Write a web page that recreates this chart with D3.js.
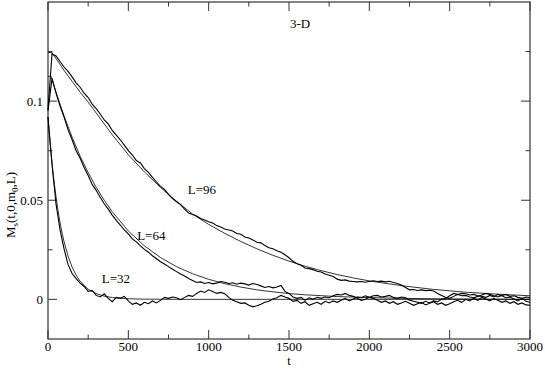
<!DOCTYPE html>
<html>
<head>
<meta charset="utf-8">
<script src="https://cdn.jsdelivr.net/npm/d3@7"></script>
<style>
  body { margin: 0; background: #fff; }
  svg { display: block; font-family: "Liberation Serif", "DejaVu Serif", serif; }
  .data { fill: none; stroke: #000; stroke-width: 1.1; }
  .fit { fill: none; stroke: #000; stroke-width: 0.8; }
</style>
</head>
<body>
<svg id="chart"></svg>
<script>
const W = 545, H = 368;
const M = { left: 48, right: 15, top: 2, bottom: 29 };

const X_TICKS = [0, 500, 1000, 1500, 2000, 2500, 3000];
const Y_TICKS = [0, 0.05, 0.1];

// simulation time, step 25
const T_DATA = d3.range(0, 3001, 25);

const M96 = [
  0.0960, 0.1238, 0.1228, 0.1200, 0.1172, 0.1150, 0.1122, 0.1092, 0.1070, 0.1040,
  0.1018, 0.0985, 0.0962, 0.0935, 0.0905, 0.0885, 0.0852, 0.0828, 0.0805, 0.0778,
  0.0750, 0.0728, 0.0700, 0.0688, 0.0660, 0.0640, 0.0615, 0.0592, 0.0570, 0.0555,
  0.0530, 0.0508, 0.0492, 0.0478, 0.0455, 0.0435, 0.0428, 0.0420, 0.0408, 0.0400,
  0.0392, 0.0385, 0.0372, 0.0365, 0.0355, 0.0350, 0.0345, 0.0332, 0.0328, 0.0315,
  0.0310, 0.0300, 0.0288, 0.0285, 0.0272, 0.0260, 0.0255, 0.0245, 0.0238, 0.0225,
  0.0210, 0.0192, 0.0180, 0.0172, 0.0158, 0.0155, 0.0150, 0.0142, 0.0138, 0.0128,
  0.0122, 0.0115, 0.0102, 0.0096, 0.0098, 0.0092, 0.0090, 0.0088, 0.0090, 0.0086,
  0.0090, 0.0094, 0.0090, 0.0092, 0.0088, 0.0091, 0.0085, 0.0080, 0.0072, 0.0060,
  0.0048, 0.0050, 0.0045, 0.0048, 0.0044, 0.0046, 0.0042, 0.0030, 0.0020, 0.0010,
  0.0005, 0.0015, 0.0025, 0.0030, 0.0028, 0.0022, 0.0025, 0.0018, 0.0015, 0.0010,
  0.0020, 0.0012, 0.0025, 0.0018, 0.0008, 0.0012, 0.0002, -0.0008, 0.0005, -0.0010,
  -0.0015
];

const M64 = [
  0.0950, 0.1115, 0.1040, 0.0975, 0.0920, 0.0855, 0.0805, 0.0750, 0.0712, 0.0665,
  0.0625, 0.0580, 0.0550, 0.0515, 0.0482, 0.0455, 0.0425, 0.0398, 0.0375, 0.0350,
  0.0330, 0.0305, 0.0290, 0.0270, 0.0252, 0.0238, 0.0220, 0.0205, 0.0190, 0.0178,
  0.0165, 0.0152, 0.0140, 0.0128, 0.0118, 0.0105, 0.0095, 0.0085, 0.0088, 0.0080,
  0.0085, 0.0078, 0.0082, 0.0090, 0.0086, 0.0080, 0.0084, 0.0076, 0.0082, 0.0078,
  0.0072, 0.0080, 0.0075, 0.0068, 0.0060, 0.0065, 0.0058, 0.0062, 0.0070, 0.0040,
  0.0030, 0.0012, 0.0005, 0.0010, -0.0005, 0.0008, 0.0000, 0.0010, 0.0005, 0.0012,
  0.0008, 0.0018, 0.0025, 0.0022, 0.0030, 0.0020, 0.0015, 0.0005, -0.0005, 0.0000,
  0.0010, 0.0018, 0.0020, 0.0012, 0.0015, 0.0020, 0.0010, 0.0005, 0.0012, 0.0008,
  -0.0004, -0.0010, -0.0015, -0.0020, -0.0010, -0.0018, -0.0008, -0.0012, 0.0000, 0.0005,
  0.0018, 0.0030, 0.0025, 0.0018, 0.0020, 0.0012, 0.0008, 0.0015, 0.0022, 0.0030,
  0.0025, 0.0018, 0.0012, 0.0020, 0.0025, 0.0015, 0.0018, 0.0010, 0.0005, 0.0012,
  0.0008
];

const M32 = [
  0.0920, 0.0680, 0.0480, 0.0350, 0.0255, 0.0175, 0.0130, 0.0105, 0.0082, 0.0065,
  0.0040, 0.0045, 0.0020, 0.0012, 0.0028, 0.0005, -0.0012, 0.0010, 0.0005, 0.0015,
  -0.0008, -0.0025, -0.0018, -0.0030, -0.0015, -0.0022, -0.0008, -0.0018, -0.0005, 0.0010,
  0.0005, 0.0012, 0.0008, -0.0002, 0.0010, 0.0020, 0.0015, 0.0030, 0.0042, 0.0035,
  0.0048, 0.0040, 0.0030, 0.0035, 0.0028, 0.0010, -0.0005, -0.0012, -0.0020, -0.0018,
  -0.0030, -0.0038, -0.0032, -0.0025, -0.0015, -0.0010, 0.0002, 0.0008, 0.0020, 0.0012,
  0.0005, -0.0010, -0.0005, -0.0020, -0.0012, -0.0030, -0.0022, -0.0015, -0.0025, -0.0010,
  -0.0018, -0.0008, -0.0015, -0.0005, 0.0005, -0.0008, 0.0002, 0.0012, 0.0008, 0.0018,
  0.0010, 0.0005, -0.0005, -0.0015, -0.0008, -0.0020, -0.0012, -0.0025, -0.0018, -0.0010,
  -0.0020, -0.0030, -0.0022, -0.0015, -0.0028, -0.0020, -0.0012, -0.0025, -0.0018, -0.0030,
  -0.0022, -0.0012, -0.0005, -0.0015, 0.0000, -0.0008, 0.0005, -0.0005, 0.0010, 0.0002,
  -0.0008, 0.0004, -0.0005, -0.0015, -0.0008, -0.0020, -0.0012, -0.0025, -0.0018, -0.0028,
  -0.0030
];

// fitted curves
const FIT96_T = [0, 25, 50, 100, 150, 200, 250, 300, 400, 500, 600, 700, 800, 900, 1000,
  1100, 1200, 1300, 1400, 1500, 1600, 1700, 1800, 1900, 2000, 2200, 2400, 2600, 2800, 3000];
const FIT96 = [0.1245, 0.1245, 0.1215, 0.1155, 0.1100, 0.1045, 0.0995, 0.0940, 0.0830, 0.0730,
  0.0643, 0.0565, 0.0495, 0.0430, 0.0378, 0.0333, 0.0292, 0.0255, 0.0222, 0.0193,
  0.0167, 0.0145, 0.0125, 0.0108, 0.0093, 0.0069, 0.0050, 0.0036, 0.0026, 0.0018];

const FIT64_T = [0, 20, 50, 100, 150, 200, 250, 300, 350, 400, 500, 600, 700, 800, 900, 1000,
  1100, 1200, 1300, 1400, 1500, 1600, 1800, 2000, 2200, 2500, 3000];
const FIT64 = [0.1125, 0.1125, 0.1045, 0.0925, 0.0818, 0.0722, 0.0640, 0.0565, 0.0500, 0.0442,
  0.0345, 0.0270, 0.0211, 0.0165, 0.0129, 0.0101, 0.0079, 0.0062, 0.0048, 0.0038,
  0.0029, 0.0023, 0.0014, 0.0009, 0.0005, 0.0002, 0.0000];

const FIT32_T = [0, 10, 20, 30, 40, 50, 60, 70, 80, 90, 100, 125, 150, 175, 200, 250, 300,
  350, 400, 500, 600, 800, 3000];
const FIT32 = [0.0920, 0.0820, 0.0730, 0.0650, 0.0580, 0.0517, 0.0461, 0.0411, 0.0366, 0.0326,
  0.0291, 0.0218, 0.0163, 0.0122, 0.0091, 0.0051, 0.0029, 0.0016, 0.0009, 0.0003,
  0.0001, 0.0000, 0.0000];

const LABELS = [
  { text: "L=96", t: 870, v: 0.053 },
  { text: "L=64", t: 555, v: 0.030 },
  { text: "L=32", t: 335, v: 0.0085 }
];

const svg = d3.select("#chart").attr("width", W).attr("height", H);
svg.append("rect").attr("width", W).attr("height", H).attr("fill", "#fff");

const x = d3.scaleLinear().domain([0, 3000]).range([M.left, W - M.right]);
const y = d3.scaleLinear().domain([-0.02, 0.15]).range([H - M.bottom, M.top]);

const line = d3.line().x(d => x(d[0])).y(d => y(d[1]));

function drawAxes() {
  const x0 = M.left, x1 = W - M.right, y0 = H - M.bottom, y1 = M.top;
  const g = svg.append("g").attr("stroke", "#333").attr("stroke-width", 1);

  d3.range(0, 3001, 250).forEach(t => {
    const len = t % 500 === 0 ? 9 : 4.5;
    g.append("line").attr("x1", x(t)).attr("x2", x(t)).attr("y1", y0).attr("y2", y0 - len);
    g.append("line").attr("x1", x(t)).attr("x2", x(t)).attr("y1", y1).attr("y2", y1 + len);
  });
  [0, 0.025, 0.05, 0.075, 0.1, 0.125].forEach(v => {
    const major = Y_TICKS.some(m => Math.abs(m - v) < 1e-9);
    const len = major ? 9 : 4.5;
    g.append("line").attr("x1", x0).attr("x2", x0 + len).attr("y1", y(v)).attr("y2", y(v));
    g.append("line").attr("x1", x1).attr("x2", x1 - len).attr("y1", y(v)).attr("y2", y(v));
  });

  svg.append("rect")
    .attr("x", x0).attr("y", y1).attr("width", x1 - x0).attr("height", y0 - y1)
    .attr("fill", "none").attr("stroke", "#333").attr("stroke-width", 1.2);

  svg.append("g").selectAll("text").data(X_TICKS).join("text")
    .attr("x", d => x(d)).attr("y", y0 + 12)
    .attr("text-anchor", "middle").attr("font-size", 13)
    .text(d => d);

  svg.append("g").selectAll("text").data(Y_TICKS).join("text")
    .attr("x", x0 - 5).attr("y", d => y(d) + 4.5)
    .attr("text-anchor", "end").attr("font-size", 13)
    .text(d => d);

  svg.append("text").attr("x", (x0 + x1) / 2).attr("y", H - 3)
    .attr("text-anchor", "middle").attr("font-size", 12.5).text("t");

  const yl = svg.append("text")
    .attr("transform", "translate(15,205) rotate(-90)")
    .attr("text-anchor", "middle").attr("font-size", 13);
  yl.append("tspan").text("M");
  yl.append("tspan").attr("font-size", 9).attr("dy", 3).text("s");
  yl.append("tspan").attr("dy", -3).text("(t,0,m");
  yl.append("tspan").attr("font-size", 9).attr("dy", 3).text("0");
  yl.append("tspan").attr("dy", -3).text(",L)");

  svg.append("text").attr("x", 300).attr("y", 28)
    .attr("text-anchor", "middle").attr("font-size", 13).text("3-D");
}

function drawCurves() {
  const g = svg.append("g");
  [[FIT96_T, FIT96], [FIT64_T, FIT64], [FIT32_T, FIT32]].forEach(f => {
    g.append("path").attr("class", "fit")
      .attr("d", line(f[0].map((t, i) => [t, f[1][i]])));
  });
  [M96, M64, M32].forEach(s => {
    g.append("path").attr("class", "data")
      .attr("d", line(T_DATA.map((t, i) => [t, s[i]])));
  });

  svg.append("g").selectAll("text").data(LABELS).join("text")
    .attr("x", d => x(d.t)).attr("y", d => y(d.v))
    .attr("font-size", 13)
    .text(d => d.text);
}

drawAxes();
drawCurves();
</script>
</body>
</html>
